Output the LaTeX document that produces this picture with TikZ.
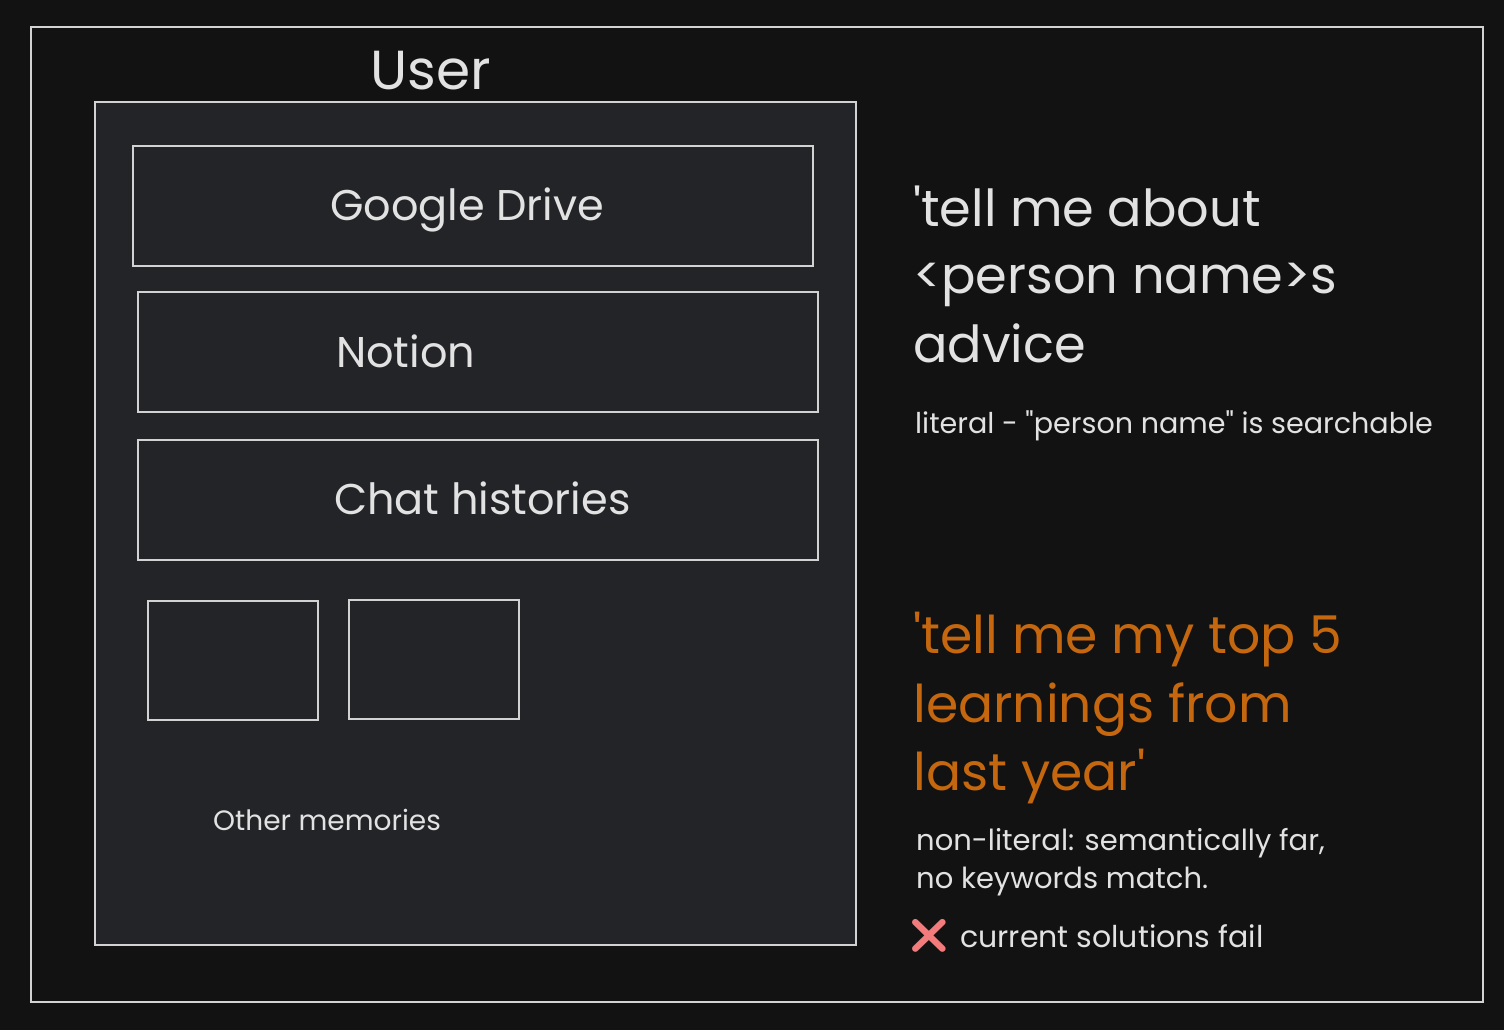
\documentclass[tikz,border=0pt]{standalone}
\usepackage{fontspec}
\setmainfont{Poppins}[Ligatures=TeXOff]
\newfontfamily\emojifont{Noto Emoji}
\usetikzlibrary{positioning}

\definecolor{bgcol}{HTML}{121212}
\definecolor{panelcol}{HTML}{232427}
\definecolor{linecol}{HTML}{D2D2D2}
\definecolor{textcol}{HTML}{E2E2E2}
\definecolor{orangecol}{HTML}{C4670F}
\definecolor{crosscol}{HTML}{F47B7B}

\newcommand\fs[1]{\fontsize{#1}{#1}\selectfont}

\tikzset{
  box/.style={draw=linecol, line width=1.6pt, fill=panelcol, inner sep=0pt},
  txt/.style={text=textcol, anchor=base west, inner sep=0pt},
}

\begin{document}
\begin{tikzpicture}[x=1pt,y=-1pt]
	% 背景
	\fill[bgcol] (0,0) rectangle (1504,1030);
	\useasboundingbox (0,0) rectangle (1504,1030);
	
	% 外框
	\node[box, fill=none, minimum width=1452, minimum height=975] (frame) at (757,514.5) {};
	
	% 用户框
	\node[box, minimum width=761, minimum height=843] (user) at (475.5,523.5) {};
	\node[txt, font=\fs{55}] (usertitle) at (370,90) {User};
	
	% 数据源
	\node[box, minimum width=680, minimum height=120] (drive) at (473,206) {};
	\node[box, minimum width=680, minimum height=120] (notion) at (478,352) {};
	\node[box, minimum width=680, minimum height=120] (chat) at (478,500) {};
	\node[txt, font=\fs{43}] (drivetext) at (330,220) {Google Drive};
	\node[txt, font=\fs{43}] (notiontext) at (336,367) {Notion};
	\node[txt, font=\fs{43}] (chattext) at (334,514) {Chat histories};
	
	% 其他记忆
	\node[box, minimum width=170, minimum height=119] (memA) at (233,660.5) {};
	\node[box, minimum width=170, minimum height=119] (memB) at (434,659.5) {};
	\node[txt, font=\fs{28}] (memtext) at (213,830) {Other memories};
	
	% 字面查询
	\node[txt, font=\fs{51}] (qa1) at (913,226) {'tell me about};
	\node[txt, font=\fs{51}] (qa2) at (913,293) {<person name>s};
	\node[txt, font=\fs{51}] (qa3) at (913,362) {advice};
	\node[txt, font=\fs{28.6}] (qanote) at (915,433) {literal - "person name" is searchable};
	
	% 非字面查询
	\node[txt, text=orangecol, font=\fs{52}] (qb1) at (913,653) {'tell me my top 5};
	\node[txt, text=orangecol, font=\fs{52}] (qb2) at (913,722) {learnings from};
	\node[txt, text=orangecol, font=\fs{52}] (qb3) at (913,790) {last year'};
	\node[txt, font=\fs{29}] (qbnote1) at (916,850) {non-literal: semantically far,};
	\node[txt, font=\fs{29}] (qbnote2) at (916,888) {no keywords match.};
	\node[text=crosscol, inner sep=0pt, font=\emojifont\fs{34}] (cross) at (929,936) {❌};
	\node[txt, font=\fs{30}] (failtext) at (960,947) {current solutions fail};
\end{tikzpicture}
\end{document}
